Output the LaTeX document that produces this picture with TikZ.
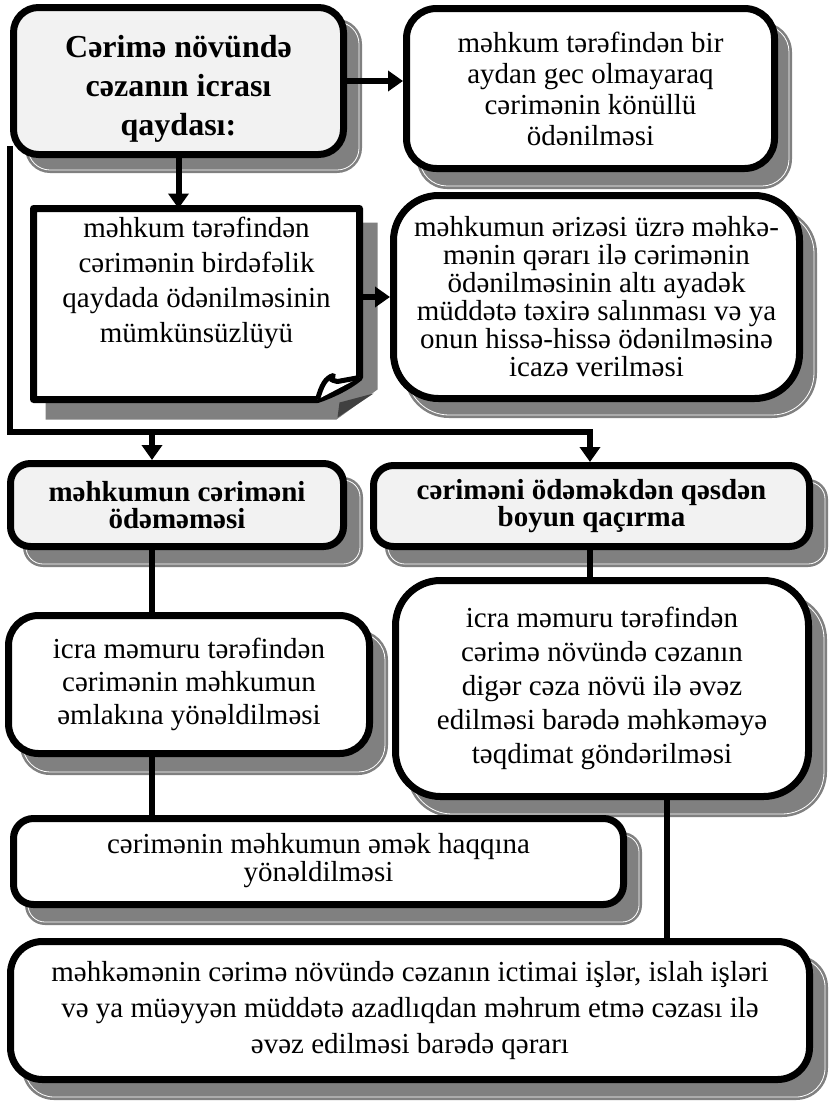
\documentclass[tikz,border=0pt]{standalone}
\usepackage{fontspec}
\setmainfont{Liberation Serif}
\usetikzlibrary{arrows.meta}
\pgfdeclarelayer{shadowlayer}
\pgfdeclarelayer{connlayer}
\pgfsetlayers{shadowlayer,connlayer,main}
\definecolor{shgray}{HTML}{808080}
\definecolor{darkgr}{HTML}{404040}
\definecolor{lightfill}{HTML}{F2F2F2}
\newcommand\boxshadow[4]{%
  \begin{pgfonlayer}{shadowlayer}
    \fill[shgray, rounded corners=#4] ([shift={(#2,#3)}]#1.north west) rectangle ([shift={(#2,#3)}]#1.south east);
    \draw[white, line width=0.8pt, rounded corners={#4-3pt}] ([shift={({#2+3},{#3+3})}]#1.north west) rectangle ([shift={({#2-3},{#3-3})}]#1.south east);
  \end{pgfonlayer}}
\tikzset{
  box/.style={draw=black, line width=7pt, fill=white, align=center, inner sep=0pt},
  headbox/.style={box, fill=lightfill, font=\bfseries\fontsize{29}{27}\selectfont},
  conn/.style={line width=6pt},
  arr/.style={conn, -{Triangle[width=20pt,length=15pt]}},
}
\begin{document}
\begin{tikzpicture}[x=1pt,y=-1pt]
\useasboundingbox (0,0) rectangle (830,1101);

% boxes
\node[box, align=none, fill=lightfill, rounded corners=25pt, minimum width=330pt, minimum height=147pt,
      font=\bfseries\fontsize{32}{39}\selectfont] (title) at (178.5,81)
  {\raisebox{-8pt}[\height][\depth]{\begin{tabular}{@{}c@{}}Cərimə növündə\\cəzanın icrası\\qaydası:\end{tabular}}};
\node[box, rounded corners=30pt, minimum width=368pt, minimum height=160pt,
      font=\fontsize{29}{31}\selectfont] (box2) at (590.5,88.5)
  {məhkum tərəfindən bir\\aydan gec olmayaraq\\cərimənin könüllü\\ödənilməsi};
\node[inner sep=0pt, outer sep=0pt, minimum width=326pt, minimum height=191pt] (fold) at (196.5,304) {};
\draw[line width=7pt, fill=white, line join=round]
  (fold.north west) -- (fold.north east) -- ([shift={(0,-22)}]fold.south east)
  .. controls ([shift={(-12,-12)}]fold.south east) and ([shift={(-30,-4)}]fold.south east) .. ([shift={(-42,0)}]fold.south east)
  -- (fold.south west) -- cycle;
\draw[line width=5pt, fill=white, line join=round]
  ([shift={(-42,0)}]fold.south east) .. controls ([shift={(-38,-14)}]fold.south east) and ([shift={(-34,-22)}]fold.south east) .. ([shift={(-26,-24)}]fold.south east)
  .. controls ([shift={(-30,-20)}]fold.south east) .. ([shift={(-22,-18)}]fold.south east)
  -- ([shift={(0,-22)}]fold.south east);
\node[align=center, inner sep=0pt, font=\fontsize{29}{35}\selectfont] (foldtext) at (196.5,283)
  {məhkum tərəfindən\\cərimənin birdəfəlik\\qaydada ödənilməsinin\\mümkünsüzlüyü};
\node[box, rounded corners=45pt, minimum width=406pt, minimum height=203pt,
      font=\fontsize{29}{28}\selectfont] (box4) at (596.5,297)
  {məhkumun ərizəsi üzrə məhkə-\\mənin qərarı ilə cərimənin\\ödənilməsinin altı ayadək\\müddətə təxirə salınması və ya\\onun hissə-hissə ödənilməsinə\\icazə verilməsi};
\node[headbox, rounded corners=20pt, minimum width=333pt, minimum height=83pt] (rowL) at (177,505)
  {məhkumun cəriməni\\ödəməməsi};
\node[headbox, rounded corners=20pt, minimum width=436pt, minimum height=81pt] (rowR) at (591.5,506)
  {cəriməni ödəməkdən qəsdən\\boyun qaçırma};
\node[box, rounded corners=30pt, minimum width=361pt, minimum height=138pt,
      font=\fontsize{29}{33}\selectfont] (leftmid) at (189,684.5)
  {icra məmuru tərəfindən\\cərimənin məhkumun\\əmlakına yönəldilməsi};
\node[box, rounded corners=45pt, minimum width=413pt, minimum height=216pt,
      font=\fontsize{29}{34}\selectfont] (rightmid) at (602,688.5)
  {icra məmuru tərəfindən\\cərimə növündə cəzanın\\digər cəza növü ilə əvəz\\edilməsi barədə məhkəməyə\\təqdimat göndərilməsi};
\node[box, align=none, rounded corners=20pt, minimum width=610pt, minimum height=86pt,
      font=\fontsize{29}{28}\selectfont] (emek) at (318.5,861.5)
  {\begin{tabular}{@{}c@{}}cərimənin məhkumun əmək haqqına\\yönəldilməsi\end{tabular}\hspace{56pt}};
\node[box, rounded corners=32pt, minimum width=799pt, minimum height=138pt,
      font=\fontsize{29}{36}\selectfont] (bottom) at (410,1010.5)
  {məhkəmənin cərimə növündə cəzanın ictimai işlər, islah işləri\\və ya müəyyən müddətə azadlıqdan məhrum etmə cəzası ilə\\əvəz edilməsi barədə qərarı};

% shadows
\boxshadow{title}{15}{15}{25pt}
\boxshadow{box2}{14}{17}{30pt}
\boxshadow{box4}{14}{16}{45pt}
\boxshadow{rowL}{16}{17}{20pt}
\boxshadow{rowR}{15}{17}{20pt}
\boxshadow{leftmid}{15}{18}{30pt}
\boxshadow{rightmid}{15}{17}{45pt}
\boxshadow{emek}{15}{17}{20pt}
\boxshadow{bottom}{15}{17}{32pt}
\begin{pgfonlayer}{shadowlayer}
  \fill[shgray] ([shift={(12,14)}]fold.north west) -- ([shift={(18,14)}]fold.north east)
    -- ([shift={(18,-10)}]fold.south east) -- ([shift={(-23,20)}]fold.south east)
    -- ([shift={(12,20)}]fold.south west) -- cycle;
  \fill[darkgr] ([shift={(-20,3)}]fold.south east) -- ([shift={(14,-6)}]fold.south east) -- ([shift={(-22,18)}]fold.south east) -- cycle;
\end{pgfonlayer}

% connectors
\coordinate (jL) at (152,432);
\coordinate (jR) at (590,432);
\coordinate (jB) at (667,800);
\begin{pgfonlayer}{connlayer}
  \draw[conn, line join=miter] ([shift={(0,-12)}]title.south west) |- ([shift={(3,0)}]jR);
  \draw[arr] (jL) -- (jL |- rowL.north);
  \draw[arr] (jR) -- (jR |- rowR.north);
  \draw[arr] (title.east) -- (title.east -| box2.west);
  \draw[arr] (title.south) -- (title.south |- fold.north);
  \draw[arr] (box4.west -| fold.east) -- (box4.west);
  \draw[conn] (jL |- rowL.south) -- (jL |- leftmid.north);
  \draw[conn] (jR |- rowR.south) -- (jR |- rightmid.north);
  \draw[conn] (jL |- leftmid.south) -- (jL |- emek.north);
  \draw[conn] (jB |- rightmid.south) -- (jB |- bottom.north);
\end{pgfonlayer}
\end{tikzpicture}
\end{document}
